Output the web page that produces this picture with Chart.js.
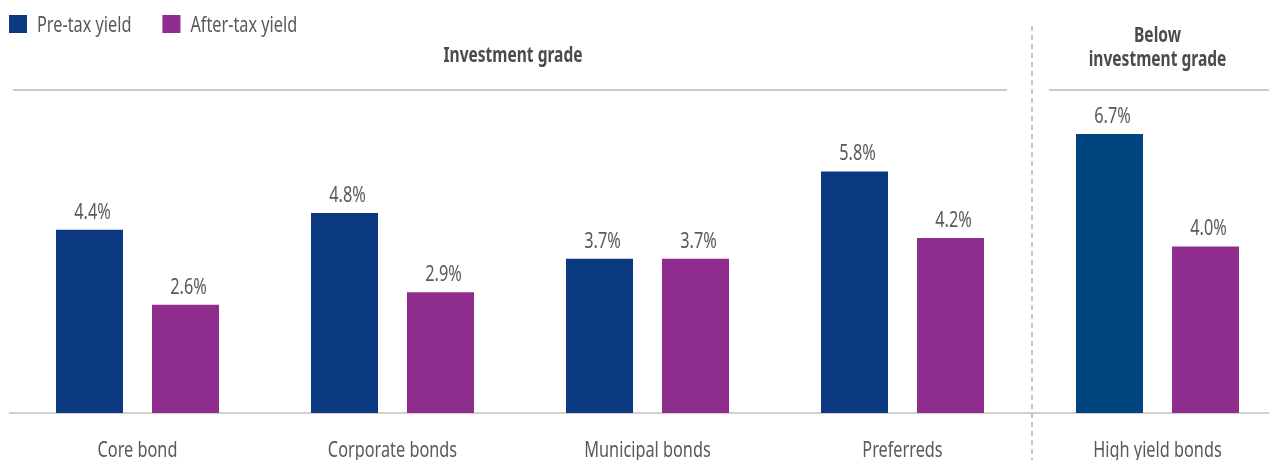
<!DOCTYPE html>
<html>
<head>
<meta charset="utf-8">
<script src="https://cdn.jsdelivr.net/npm/chart.js@4"></script>
<style>
  body { margin: 0; background: #fff; overflow: hidden; }
  #wrap { width: 1269px; height: 460px; overflow: hidden; position: relative; }
</style>
</head>
<body>
<div id="wrap"><canvas id="yieldChart" width="1285" height="460"></canvas></div>
<script>
const categories = ['Core bond', 'Corporate bonds', 'Municipal bonds', 'Preferreds', 'High yield bonds']
const preTaxYield = [4.4, 4.8, 3.7, 5.8, 6.7]
const afterTaxYield = [2.6, 2.9, 3.7, 4.2, 4.0]
const seriesLabels = ['Pre-tax yield', 'After-tax yield']
const groupTitles = [['Investment grade'], ['Below', 'investment grade']]

const FONT = '"Noto Sans", "Open Sans", sans-serif'
// the original type is a condensed face, so text is squeezed horizontally
const SX = 0.74
const blue = '#0b3a80'
const blueHY = '#00457f'
const purple = '#8e2d8d'
const textGrey = '#595959'

function squeezedText(ctx, str, x, y, align, font, color) {
    ctx.save()
    ctx.translate(x, y)
    ctx.scale(SX, 1)
    ctx.font = font
    ctx.fillStyle = color
    ctx.textAlign = align
    ctx.textBaseline = 'alphabetic'
    ctx.fillText(str, 0, 0)
    const w = ctx.measureText(str).width * SX
    ctx.restore()
    return w
}

// headers, legend, dividers, value and category labels
const decorations = {
    id: 'decorations',
    afterDatasetsDraw(chart) {
        const ctx = chart.ctx
        const x = chart.scales.x
        const area = chart.chartArea
        const sep = (x.getPixelForValue(3) + x.getPixelForValue(4)) / 2
        const regular = '22px ' + FONT
        const bold = 'bold 21px ' + FONT

        // value labels
        chart.data.datasets.forEach((ds, i) => {
            chart.getDatasetMeta(i).data.forEach((bar, j) => {
                squeezedText(ctx, ds.data[j].toFixed(1) + '%', bar.x + 3, bar.y - 11, 'center', regular, textGrey)
            })
        })

        // category labels
        chart.data.labels.forEach((lab, i) => {
            squeezedText(ctx, lab, x.getPixelForValue(i), 457, 'center', regular, textGrey)
        })

        // legend
        let lx = 9
        chart.data.datasets.forEach((ds, i) => {
            ctx.fillStyle = i === 0 ? blue : purple
            ctx.fillRect(lx, 15, 18, 18)
            const w = squeezedText(ctx, ds.label, lx + 28, 32, 'left', regular, textGrey)
            lx += 28 + w + 31
        })

        ctx.save()
        // header rules
        ctx.strokeStyle = '#cacaca'
        ctx.lineWidth = 2
        ctx.beginPath()
        ctx.moveTo(area.left + 3, 90)
        ctx.lineTo(sep - 23, 90)
        ctx.moveTo(sep + 19, 90)
        ctx.lineTo(area.right, 90)
        ctx.stroke()

        // dashed divider
        ctx.strokeStyle = '#c4c4c4'
        ctx.setLineDash([5, 4])
        ctx.beginPath()
        ctx.moveTo(sep + 2, 26)
        ctx.lineTo(sep + 2, chart.height)
        ctx.stroke()
        ctx.restore()

        // group titles
        squeezedText(ctx, groupTitles[0][0], (area.left + sep) / 2 - 7, 62, 'center', bold, '#4b4b4b')
        const hx = x.getPixelForValue(4)
        squeezedText(ctx, groupTitles[1][0], hx, 42, 'center', bold, '#4b4b4b')
        squeezedText(ctx, groupTitles[1][1], hx, 66, 'center', bold, '#4b4b4b')
    }
}

new Chart(document.getElementById('yieldChart').getContext('2d'), {
    type: 'bar',
    plugins: [decorations],
    data: {
        labels: categories,
        datasets: [{
            label: seriesLabels[0],
            data: preTaxYield,
            backgroundColor: preTaxYield.map((v, i) => i === 4 ? blueHY : blue),
            categoryPercentage: 0.753,
            barPercentage: 0.698
        }, {
            label: seriesLabels[1],
            data: afterTaxYield,
            backgroundColor: purple,
            categoryPercentage: 0.753,
            barPercentage: 0.698
        }]
    },
    options: {
        responsive: false,
        devicePixelRatio: 1,
        animation: false,
        layout: {
            padding: { left: 10, right: 0, top: 91, bottom: 47 }
        },
        scales: {
            x: {
                grid: { display: false, drawTicks: false },
                border: { display: true, color: '#d3d0cc', width: 2 },
                ticks: { display: false }
            },
            y: {
                display: false,
                min: 0,
                max: 7.73
            }
        },
        plugins: {
            legend: { display: false },
            tooltip: { enabled: false }
        }
    }
})
</script>
</body>
</html>
